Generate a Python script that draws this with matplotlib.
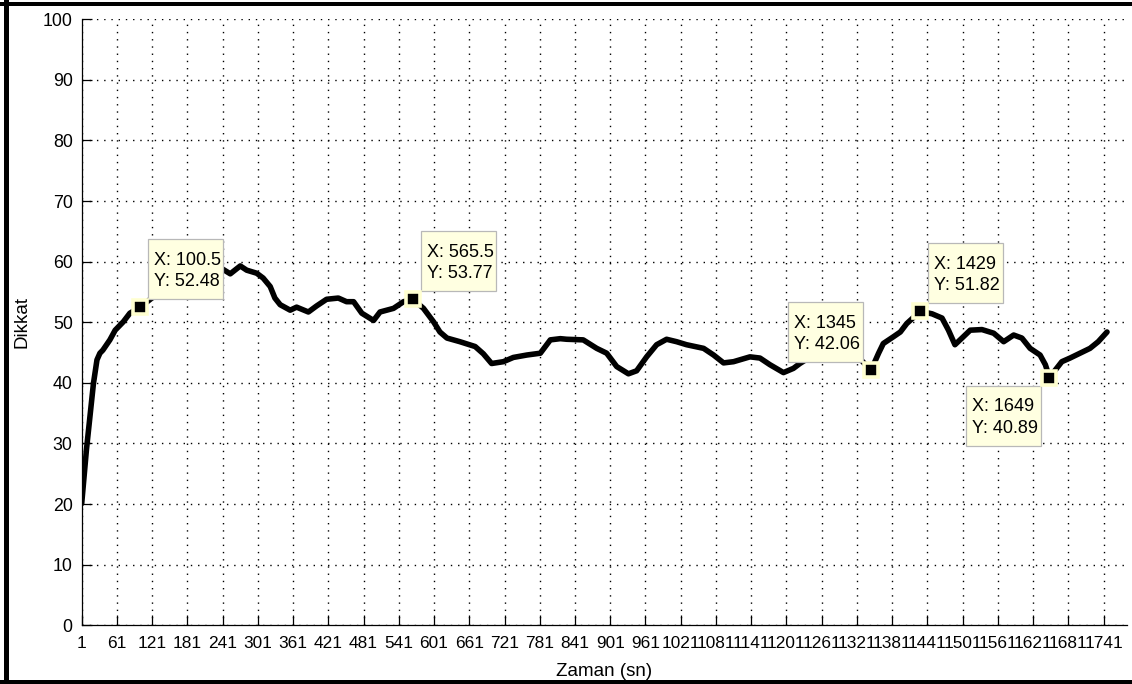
import matplotlib
matplotlib.use("Agg")
import matplotlib.pyplot as plt
from matplotlib.patches import Rectangle
from matplotlib.transforms import IdentityTransform
from matplotlib import font_manager

names = {f.name for f in font_manager.fontManager.ttflist}
narrow = "Liberation Sans Narrow" if "Liberation Sans Narrow" in names else "Liberation Sans"
plt.rcParams["font.family"] = ["Liberation Sans", "DejaVu Sans"]

# Attention level over the session (time in seconds)
time_s = [1, 9, 15, 21, 27, 32, 37, 49, 58, 72, 83, 100.5, 110, 140, 170, 200,
          225, 239, 254, 271, 282, 299, 310, 322, 330, 339, 356, 367, 387, 401,
          418, 438, 452, 464, 478, 498, 509, 532, 549, 565.5, 583, 600, 611,
          623, 645, 671, 685, 699, 719, 736, 759, 782, 799, 816, 827, 855, 878,
          895, 912, 932, 946, 963, 980, 997, 1014, 1031, 1060, 1077, 1094,
          1111, 1139, 1156, 1173, 1196, 1213, 1224, 1250, 1280, 1310, 1330,
          1345, 1358, 1366, 1383, 1395, 1406, 1429, 1449, 1466, 1477, 1488,
          1500, 1514, 1534, 1554, 1571, 1588, 1602, 1616, 1633, 1642, 1649,
          1670, 1684, 1701, 1718, 1732, 1747]
attention = [20.1, 28.9, 34.4, 39.9, 43.8, 44.9, 45.4, 47.1, 48.7, 50.1, 51.5,
             52.48, 53.2, 55.5, 57.0, 58.0, 58.5, 58.9, 58.0, 59.3, 58.6, 58.1,
             57.3, 55.9, 54.0, 52.9, 52.0, 52.5, 51.7, 52.7, 53.8, 54.0, 53.4,
             53.4, 51.5, 50.3, 51.7, 52.3, 53.4, 53.77, 52.3, 50.1, 48.4, 47.4,
             46.8, 46.0, 44.8, 43.2, 43.5, 44.2, 44.6, 44.9, 47.1, 47.3, 47.2,
             47.1, 45.7, 44.9, 42.7, 41.5, 42.0, 44.3, 46.3, 47.2, 46.8, 46.3,
             45.7, 44.6, 43.3, 43.5, 44.3, 44.1, 43.0, 41.7, 42.4, 43.2, 44.8,
             45.8, 45.2, 43.6, 42.06, 44.9, 46.5, 47.6, 48.4, 49.8, 51.82, 51.4,
             50.7, 48.7, 46.3, 47.4, 48.7, 48.8, 48.2, 46.8, 47.9, 47.4, 45.7,
             44.6, 43.0, 40.89, 43.5, 44.1, 44.9, 45.7, 46.8, 48.4]

# Data tips
tip_x = [100.5, 565.5, 1345, 1429, 1649]
tip_y = [52.48, 53.77, 42.06, 51.82, 40.89]
tip_side = ["ur", "ur", "ul", "ur", "ll"]

x_ticks = list(range(1, 1742, 60))
y_ticks = list(range(0, 101, 10))

W, H = 1132, 684
fig = plt.figure(figsize=(W / 100, H / 100), dpi=100, facecolor="white")
L, R, B, T = 81.7, 1127.0, 625.3, 19.3
ax = fig.add_axes([L / W, 1 - B / H, (R - L) / W, (B - T) / H])

ax.plot(time_s, attention, color="black", lw=4.0,
        solid_joinstyle="round", solid_capstyle="round", zorder=3)
ax.set_xlim(1, 1781)
ax.set_ylim(0, 100)
ax.set_xticks(x_ticks)
ax.set_yticks(y_ticks)
ax.grid(True, color="black", linestyle=(0, (1, 4.2)), linewidth=1.0)

for side in ("top", "right"):
    ax.spines[side].set_visible(False)
for side in ("left", "bottom"):
    ax.spines[side].set_linewidth(0.9)
    ax.spines[side].set_color("black")

ax.tick_params(direction="in", length=7.2, width=0.9, colors="black")
ax.tick_params(axis="y", pad=6.5)
ax.tick_params(axis="x", pad=8)
for lab in ax.get_xticklabels():
    lab.set_fontfamily([narrow, "DejaVu Sans"])
    lab.set_fontsize(12.4)
for lab in ax.get_yticklabels():
    lab.set_fontfamily(["Liberation Sans", "DejaVu Sans"])
    lab.set_fontsize(12.8)

ax.set_xlabel("Zaman (sn)", fontsize=13.5, family=[narrow, "DejaVu Sans"])
ax.set_ylabel("Dikkat", fontsize=13.5, family=[narrow, "DejaVu Sans"])
ax.xaxis.set_label_coords(0.5, (B - 671) / (B - T))
ax.xaxis.label.set_va("center")
ax.yaxis.set_label_coords((22 - L) / (R - L), 0.5)
ax.yaxis.label.set_va("center")

# data tip markers
ax.plot(tip_x, tip_y, ls="none", marker="s", ms=10, mfc="black",
        mec="#FFFFD0", mew=2.6, zorder=6, clip_on=False)

# data tip boxes, placed a few pixels off each marker
bw, bh, gap = 75, 60, 8
ident = IdentityTransform()
for x, y, side in zip(tip_x, tip_y, tip_side):
    mx, my = ax.transData.transform((x, y))
    if side == "ur":
        bx, by = mx + gap, my + gap
    elif side == "ul":
        bx, by = mx - gap - bw, my + gap
    else:
        bx, by = mx - gap - bw, my - gap - bh
    box = Rectangle((bx, by), bw, bh, transform=ident, facecolor="#FFFFE1",
                    edgecolor="#B8B8B8", lw=0.9, zorder=5, clip_on=False)
    ax.add_artist(box)
    for text, base in ((f"X: {x:g}", 25.5), (f"Y: {y:.4g}", 47)):
        ax.text(bx + 6, by + bh - base, text, transform=ident,
                fontsize=13, family=[narrow, "DejaVu Sans"],
                ha="left", va="baseline", zorder=7, clip_on=False)

# window frame
for (x0, y0, w, h) in [(4, 0, 4.5, H), (0, H - 6, W, 4), (0, 0, W, 4)]:
    fig.add_artist(Rectangle((x0, y0), w, h, transform=ident,
                             facecolor="black", edgecolor="none"))

fig.savefig("out.png", dpi=100, facecolor="white")
